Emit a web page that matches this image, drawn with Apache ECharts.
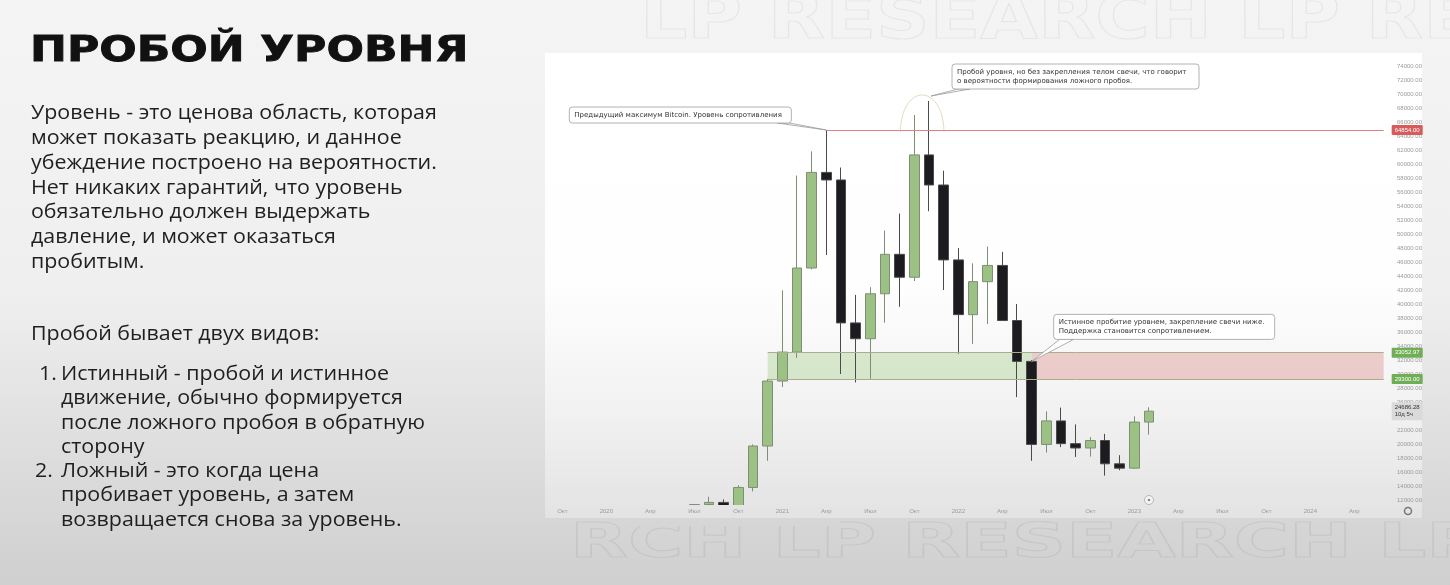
<!DOCTYPE html>
<html><head><meta charset="utf-8">
<script src="https://cdn.jsdelivr.net/npm/echarts@6/dist/echarts.min.js"></script>
<style>html,body{margin:0;padding:0;background:#f2f2f2}#c{width:1450px;height:585px}</style>
</head><body><div id="c"></div>
<script>
// ---- data ----
const months = ['2019-10','2019-11','2019-12','2020-01','2020-02','2020-03','2020-04','2020-05','2020-06','2020-07','2020-08','2020-09','2020-10','2020-11','2020-12',
'2021-01','2021-02','2021-03','2021-04','2021-05','2021-06','2021-07','2021-08','2021-09','2021-10','2021-11','2021-12',
'2022-01','2022-02','2022-03','2022-04','2022-05','2022-06','2022-07','2022-08','2022-09','2022-10','2022-11','2022-12',
'2023-01','2023-02','2023-03','2023-04','2023-05','2023-06','2023-07','2023-08','2023-09','2023-10','2023-11','2023-12',
'2024-01','2024-02','2024-03','2024-04','2024-05','2024-06'];
const candleMonths = ['2020-07','2020-08','2020-09','2020-10','2020-11','2020-12',
'2021-01','2021-02','2021-03','2021-04','2021-05','2021-06','2021-07','2021-08','2021-09','2021-10','2021-11','2021-12',
'2022-01','2022-02','2022-03','2022-04','2022-05','2022-06','2022-07','2022-08','2022-09','2022-10','2022-11','2022-12',
'2023-01','2023-02'];
const openP  = [9135,11351,11655,10777,13792,19713,28990,33130,45140,58800,57720,37300,35040,41460,47100,43820,61300,57000,46300,38480,43190,45510,37640,31800,19940,23300,20050,19430,20500,17170,16550,23130];
const closeP = [11351,11655,10777,13792,19713,28990,33130,45140,58800,57720,37300,35040,41460,47100,43820,61300,57000,46300,38480,43190,45510,37640,31800,19940,23300,20050,19430,20500,17170,16550,23130,24686];
const lowP   = [8977,10994,9825,10550,13221,17600,28130,32300,44950,47000,30000,28800,29300,37330,39600,43280,53250,42000,32900,34300,37150,37700,26700,17600,18780,19550,18150,18200,15480,16250,16500,21350];
const highP  = [11434,12473,12089,14104,19944,29300,41950,58350,61800,64854,59500,41300,42400,50500,52920,67000,69000,59040,47990,45800,48200,47450,40000,31990,24670,25200,22800,20990,21450,18400,23950,25250];
const yTicks = [12000,14000,16000,18000,20000,22000,24000,26000,28000,30000,32000,34000,36000,38000,40000,42000,44000,46000,48000,50000,52000,54000,56000,58000,60000,62000,64000,66000,68000,70000,72000,74000];
const monthAbbr = ['Янв','Фев','Мар','Апр','Май','Июн','Июл','Авг','Сен','Окт','Ноя','Дек'];
const resistance = 64854.00;
const zoneTop = 33052.97;
const zoneBottom = 29300.00;
const lastPrice = 24686.28;

// ---- text ----
const title = 'ПРОБОЙ УРОВНЯ';
const para1 = ['Уровень - это ценова область, которая','может показать реакцию, и данное','убеждение построено на вероятности.','Нет никаких гарантий, что уровень','обязательно должен выдержать','давление, и может оказаться','пробитым.'];
const para1Y = [113,138,163,188,212,237,262];
const para2Head = 'Пробой бывает двух видов:';
const list1 = ['Истинный - пробой и истинное','движение, обычно формируется','после ложного пробоя в обратную','сторону'];
const list2 = ['Ложный - это когда цена','пробивает уровень, а затем','возвращается снова за уровень.'];
const note1 = 'Предыдущий максимум Bitcoin. Уровень сопротивления';
const note2 = 'Пробой уровня, но без закрепления телом свечи, что говорит\nо вероятности формирования ложного пробоя.';
const note3 = 'Истинное пробитие уровнем, закрепление свечи ниже.\nПоддержка становится сопротивлением.';

const chart = echarts.init(document.getElementById('c'));
const bodyFont = '20px "Open Sans", sans-serif';
const txt = (s, x, y) => ({type:'text', x:x, y:y, z:10, scaleX:1.07, style:{text:s, font:bodyFont, fill:'#1f1f1f', verticalAlign:'middle'}});
const panelGrad = () => new echarts.graphic.LinearGradient(0,53,0,518,[{offset:0,color:'#ffffff'},{offset:0.5,color:'#fefefe'},{offset:0.78,color:'#f1f1f1'},{offset:1,color:'#e3e3e3'}], true);
const bgGrad = () => new echarts.graphic.LinearGradient(0,0,0,585,[{offset:0,color:'#f4f4f4'},{offset:0.5,color:'#efefef'},{offset:1,color:'#cfcfcf'}], true);

const staticGraphics = [
  {type:'rect', z:-10, shape:{x:0,y:0,width:1450,height:585}, style:{fill:bgGrad()}},
  {type:'text', z:-9, x:640, y:22, scaleX:1.2, style:{text:'LP RESEARCH LP RE', font:'bold 62px "DejaVu Sans"', fill:'rgba(0,0,0,0)', stroke:'rgba(0,0,0,0.055)', lineWidth:1.2, verticalAlign:'middle'}},
  {type:'text', z:-9, x:570, y:545, scaleX:1.57, style:{text:'RCH LP RESEARCH LP', font:'bold 48px "DejaVu Sans"', fill:'rgba(0,0,0,0)', stroke:'rgba(0,0,0,0.06)', lineWidth:1.2, verticalAlign:'middle'}},
  {type:'rect', z:-8, shape:{x:545,y:53,width:877,height:465}, style:{fill:panelGrad(), shadowBlur:12, shadowColor:'rgba(0,0,0,0.18)'}},
  // covers the part of the candles below the plot area (the chart clips there)
  {type:'rect', z:5, shape:{x:546,y:505,width:846,height:13}, style:{fill:panelGrad()}},
  {type:'rect', z:5, shape:{x:640,y:518,width:200,height:8}, style:{fill:bgGrad()}},
  {type:'text', z:10, x:30, y:52, scaleX:1.26, style:{text:title, font:'bold 35px "DejaVu Sans"', fill:'#111', stroke:'#111', lineWidth:0.8, verticalAlign:'middle'}},
];
para1.forEach((s,i)=>staticGraphics.push(txt(s,31,para1Y[i])));
staticGraphics.push(txt(para2Head,31,334));
staticGraphics.push(txt('1.',39,374));
list1.forEach((s,i)=>staticGraphics.push(txt(s,61,374+i*24.5)));
staticGraphics.push(txt('2.',35,471));
list2.forEach((s,i)=>staticGraphics.push(txt(s,61,471+i*24.5)));

const option = {
  animation:false,
  grid:{left:555, right:59, top:53.4, height:451.5},
  xAxis:{type:'category', data:months, boundaryGap:true, z:12,
    axisLine:{show:false}, axisTick:{show:false}, splitLine:{show:false},
    axisLabel:{fontSize:6, color:'#9a9a9a', margin:3,
      interval:(idx,val)=>[1,4,7,10].indexOf(+val.slice(5))>=0,
      formatter:(val)=>{const m=+val.slice(5); return m===1 ? val.slice(0,4) : monthAbbr[m-1];}}},
  yAxis:{type:'value', position:'right', min:11300, max:75800, scale:true,
    axisLine:{show:false}, axisTick:{show:false}, splitLine:{show:false},
    axisLabel:{customValues:yTicks, fontSize:6, color:'#9a9a9a', margin:6, formatter:(v)=>v.toFixed(2)}},
  series:[{
    type:'candlestick', clip:true, barWidth:10,
    dimensions:['date','open','close','lowest','highest'],
    encode:{x:'date', y:['open','close','lowest','highest']},
    data:candleMonths.map((m,i)=>[m, openP[i], closeP[i], lowP[i], highP[i]]),
    itemStyle:{color:'#9cc185', color0:'#1c1c20', borderColor:'#7e8e74', borderColor0:'#4a4a4a', borderWidth:1},
    markArea:{silent:true, data:[
      [{coord:['2020-12', zoneTop], itemStyle:{color:'rgba(160,205,135,0.38)'}},{coord:['2022-06', zoneBottom]}],
      [{coord:['2022-06', zoneTop], itemStyle:{color:'rgba(225,160,160,0.5)'}},{coord:[months[months.length-1], zoneBottom]}]
    ]},
    markLine:{silent:true, symbol:['none','none'], data:[
      [{coord:['2021-04', resistance], lineStyle:{color:'#e08080', width:1, type:'solid'},
        label:{show:true, position:'end', distance:8, formatter:resistance.toFixed(2), backgroundColor:'#d65c5c', color:'#fff', fontSize:6, padding:[2,3], borderRadius:1}},
       {coord:[months[months.length-1], resistance]}],
      [{coord:['2020-12', zoneTop], lineStyle:{color:'#a8ad8e', width:1, type:'solid'},
        label:{show:true, position:'end', distance:8, formatter:zoneTop.toFixed(2), backgroundColor:'#6fae55', color:'#fff', fontSize:6, padding:[2,3], borderRadius:1}},
       {coord:[months[months.length-1], zoneTop]}],
      [{coord:['2020-12', zoneBottom], lineStyle:{color:'#a8ad8e', width:1, type:'solid'},
        label:{show:true, position:'end', distance:8, formatter:zoneBottom.toFixed(2), backgroundColor:'#6fae55', color:'#fff', fontSize:6, padding:[2,3], borderRadius:1}},
       {coord:[months[months.length-1], zoneBottom]}],
      [{coord:['2023-02', lastPrice], lineStyle:{color:'rgba(0,0,0,0)', width:0},
        label:{show:true, position:'end', distance:8, formatter:lastPrice.toFixed(2)+'\n10д 5ч', backgroundColor:'#dadada', color:'#333', fontSize:6, lineHeight:7, padding:[2,3], borderRadius:1}},
       {coord:[months[months.length-1], lastPrice]}]
    ]}
  }],
  graphic:staticGraphics
};
chart.setOption(option);

// ---- annotations anchored to data ----
const px = (m,v)=>chart.convertToPixel({seriesIndex:0},[m,v]);
const a1 = px('2021-04', highP[candleMonths.indexOf('2021-04')]);
const a2 = px('2021-11', highP[candleMonths.indexOf('2021-11')]);
const aOct = px('2021-10', highP[candleMonths.indexOf('2021-10')]);
const a3 = px('2022-06', openP[candleMonths.indexOf('2022-06')]);
const rY = px('2021-04', resistance)[1];
const last = px('2023-02', lastPrice);
const noteFont = '7px "DejaVu Sans", sans-serif';
function callout(box, tail, text){
  return [
    {type:'polygon', z:20, shape:{points:tail}, style:{fill:'#fff', stroke:'#9a9a9a', lineWidth:0.8}},
    {type:'rect', z:21, shape:{x:box[0],y:box[1],width:box[2],height:box[3],r:3}, style:{fill:'#fff', stroke:'#a0a0a0', lineWidth:0.8}},
    {type:'polygon', z:22, shape:{points:[[tail[0][0]+0.8,box[1]+box[3]-1.2],[tail[1][0]-0.8,box[1]+box[3]-1.2],[tail[1][0]-0.8,box[1]+box[3]-2],[tail[0][0]+0.8,box[1]+box[3]-2]]}, style:{fill:'#fff'}},
    {type:'text', z:23, x:box[0]+5, y:box[1]+box[3]/2, style:{text:text, font:noteFont, fill:'#333', verticalAlign:'middle', lineHeight:9}}
  ];
}
const b1 = [a1[0]-257, a1[1]-23, 222, 16];
const b2 = [a2[0]+23, a2[1]-37, 247, 25];
const b3 = [a3[0]+22, a3[1]-47, 221, 25];
const peakY = a2[1]-6;
const xL = aOct[0]-14, xR = a2[0]+15;
const cy = (peakY - 0.25*(rY+2))/0.75;
const extra = [
  {type:'bezierCurve', z:15, shape:{x1:xL,y1:rY+2,cpx1:xL+1,cpy1:cy,cpx2:xR-1,cpy2:cy,x2:xR,y2:rY+2}, style:{stroke:'rgba(210,195,150,0.6)', lineWidth:1, fill:null}},
  ...callout(b1, [[b1[0]+b1[2]-14, b1[1]+b1[3]], [b1[0]+b1[2]-2, b1[1]+b1[3]], [a1[0], a1[1]]], note1),
  ...callout(b2, [[b2[0]+6, b2[1]+b2[3]], [b2[0]+18, b2[1]+b2[3]], [a2[0]+2, a2[1]-5]], note2),
  ...callout(b3, [[b3[0]+6, b3[1]+b3[3]], [b3[0]+20, b3[1]+b3[3]], [a3[0], a3[1]]], note3),
  {type:'circle', z:15, shape:{cx:last[0], cy:500, r:4.5}, style:{fill:'#f4f4f4', stroke:'#aaa', lineWidth:0.8}},
  {type:'circle', z:15, shape:{cx:last[0], cy:500, r:1.3}, style:{fill:'#888'}},
  {type:'circle', z:15, shape:{cx:1408, cy:511, r:3.5}, style:{fill:'none', stroke:'#777', lineWidth:1.5}}
];
chart.setOption({graphic:staticGraphics.concat(extra)});
</script></body></html>
